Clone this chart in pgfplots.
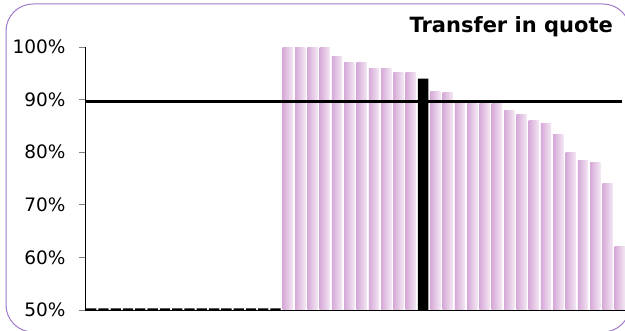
\documentclass[border=0pt]{standalone}
\usepackage{pgfplots}
\pgfplotsset{compat=1.18}
\usepackage{fontspec}
\setmainfont{DejaVu Sans}
\definecolor{barL}{RGB}{214,170,216}
\definecolor{barR}{RGB}{244,232,244}
\definecolor{frame}{RGB}{160,122,200}
\pgfplotsset{pb/.style={ybar, bar width=10.3pt, draw=none, left color=barL, right color=barR, forget plot}}
\begin{document}
\begin{tikzpicture}[x=1pt,y=1pt]
\useasboundingbox (0,0) rectangle (625,331);
\fill[white] (0,0) rectangle (625,331);
\draw[rounded corners=27pt, frame, line width=1pt] (6,-1) rectangle (630,327);
\begin{axis}[
  at={(85pt,21pt)}, anchor=south west,
  scale only axis, width=541pt, height=263pt,
  xmin=-0.5, xmax=43.5, ymin=50, ymax=100,
  axis x line*=bottom, axis y line*=left,
  axis line style={-, black, line width=0.8pt},
  xtick=\empty,
  ytick={50,60,70,80,90,100},
  yticklabel={\pgfmathprintnumber{\tick}\%},
  /pgf/number format/assume math mode=true,
  ticklabel style={font=\fontsize{18.5}{21}\selectfont},
  yticklabel style={xshift=-10pt},
  tick style={gray, line width=0.7pt},
  tick align=outside, major tick length=6pt,
  axis on top,
  clip=true,
]
\addplot[ybar, bar width=10.3pt, draw=none, fill=black] coordinates {
(0,50.3) (1,50.3) (2,50.3) (3,50.3) (4,50.3) (5,50.3) (6,50.3) (7,50.3)
(8,50.3) (9,50.3) (10,50.3) (11,50.3) (12,50.3) (13,50.3) (14,50.3) (15,50.3)
(27,94.0)
};
\addplot[pb] coordinates {(16,100)};
\addplot[pb] coordinates {(17,100)};
\addplot[pb] coordinates {(18,100)};
\addplot[pb] coordinates {(19,100)};
\addplot[pb] coordinates {(20,98.1)};
\addplot[pb] coordinates {(21,97.0)};
\addplot[pb] coordinates {(22,97.0)};
\addplot[pb] coordinates {(23,96.0)};
\addplot[pb] coordinates {(24,96.0)};
\addplot[pb] coordinates {(25,95.1)};
\addplot[pb] coordinates {(26,95.1)};
\addplot[pb] coordinates {(28,91.6)};
\addplot[pb] coordinates {(29,91.4)};
\addplot[pb] coordinates {(30,89.3)};
\addplot[pb] coordinates {(31,89.3)};
\addplot[pb] coordinates {(32,89.3)};
\addplot[pb] coordinates {(33,89.3)};
\addplot[pb] coordinates {(34,88.0)};
\addplot[pb] coordinates {(35,87.1)};
\addplot[pb] coordinates {(36,86.1)};
\addplot[pb] coordinates {(37,85.4)};
\addplot[pb] coordinates {(38,83.3)};
\addplot[pb] coordinates {(39,80.0)};
\addplot[pb] coordinates {(40,78.5)};
\addplot[pb] coordinates {(41,78.1)};
\addplot[pb] coordinates {(42,74.1)};
\addplot[pb] coordinates {(43,62.0)};
\addplot[black, line width=2.8pt, no marks] coordinates {(-0.4,89.7) (43.15,89.7)};
\end{axis}
\node[anchor=base east, font=\fontsize{21}{24}\selectfont\bfseries, inner sep=0pt] at (613,298) {Transfer in quote};
\end{tikzpicture}
\end{document}
